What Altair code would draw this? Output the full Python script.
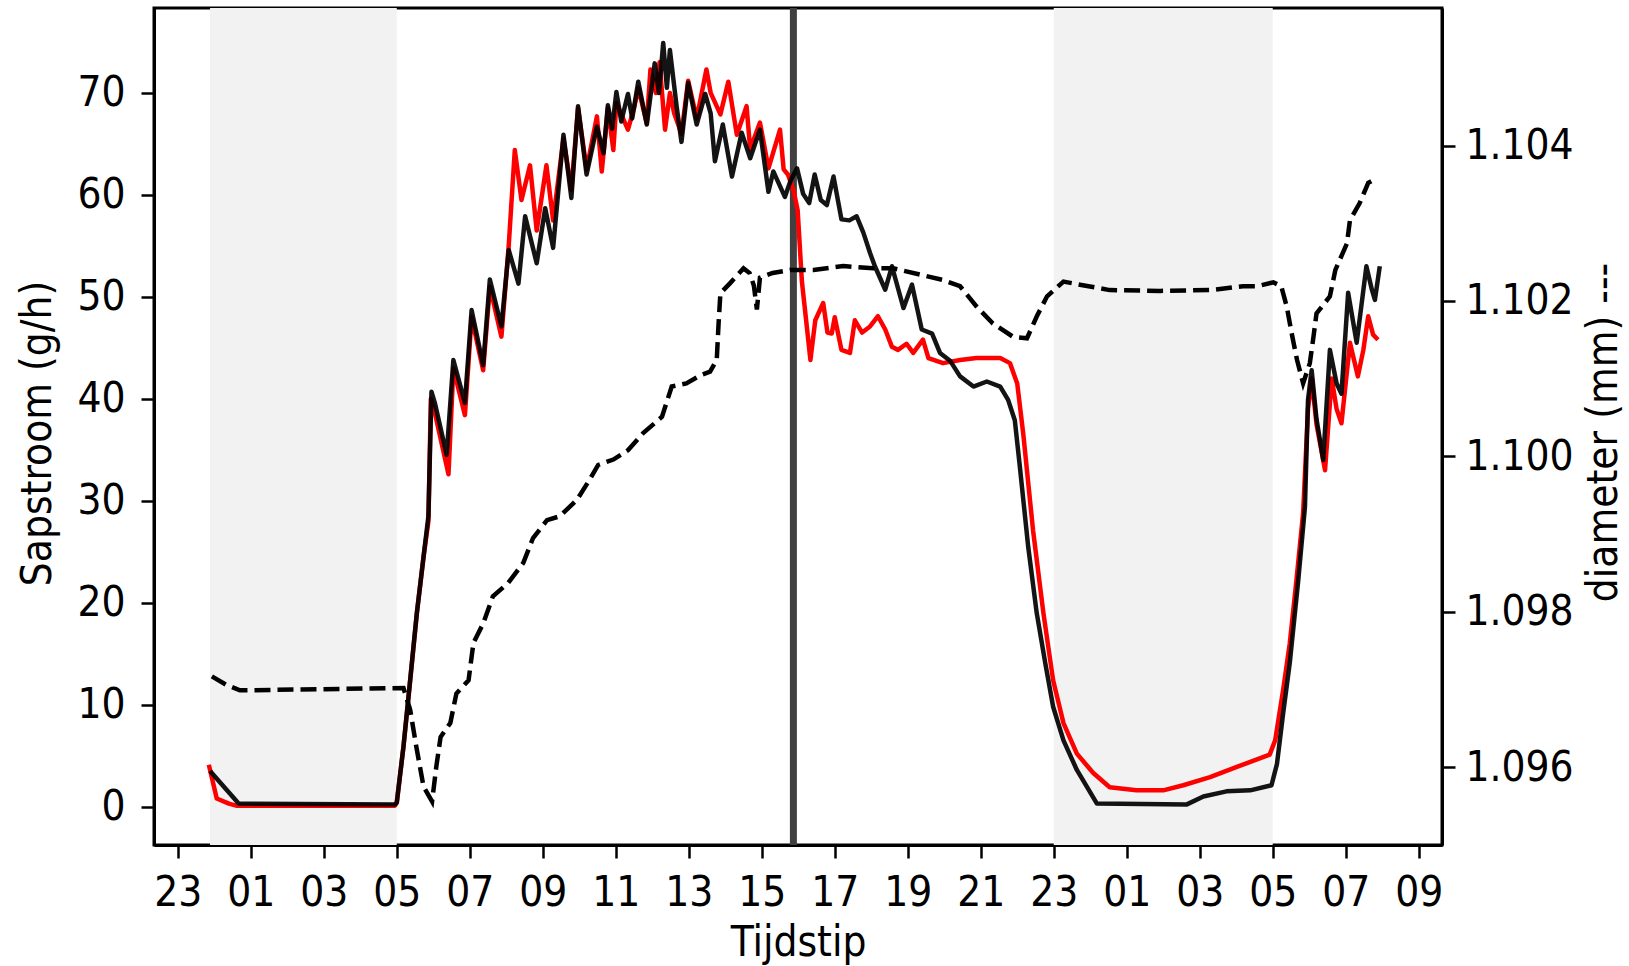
import altair as alt
import pandas as pd

FONT = "DejaVu Sans Condensed, DejaVu Sans"

# Sapstroom (g/h), rode reeks
red_time = [
    "2021-06-14 23:51", "2021-06-15 00:04", "2021-06-15 00:24", "2021-06-15 00:36",
    "2021-06-15 04:57", "2021-06-15 05:00", "2021-06-15 05:11", "2021-06-15 05:22",
    "2021-06-15 05:33", "2021-06-15 05:44", "2021-06-15 05:52", "2021-06-15 05:56",
    "2021-06-15 06:03", "2021-06-15 06:25", "2021-06-15 06:33", "2021-06-15 06:52",
    "2021-06-15 07:03", "2021-06-15 07:22", "2021-06-15 07:33", "2021-06-15 07:52",
    "2021-06-15 08:04", "2021-06-15 08:14", "2021-06-15 08:25", "2021-06-15 08:39",
    "2021-06-15 08:50", "2021-06-15 09:06", "2021-06-15 09:17", "2021-06-15 09:34",
    "2021-06-15 09:47", "2021-06-15 09:58", "2021-06-15 10:12", "2021-06-15 10:29",
    "2021-06-15 10:37", "2021-06-15 10:47", "2021-06-15 10:56", "2021-06-15 11:01",
    "2021-06-15 11:20", "2021-06-15 11:30", "2021-06-15 11:37", "2021-06-15 11:51",
    "2021-06-15 11:57", "2021-06-15 12:06", "2021-06-15 12:12", "2021-06-15 12:21",
    "2021-06-15 12:29", "2021-06-15 12:36", "2021-06-15 12:48", "2021-06-15 12:59",
    "2021-06-15 13:13", "2021-06-15 13:29", "2021-06-15 13:36", "2021-06-15 13:52",
    "2021-06-15 14:05", "2021-06-15 14:19", "2021-06-15 14:35", "2021-06-15 14:41",
    "2021-06-15 14:57", "2021-06-15 15:11", "2021-06-15 15:30", "2021-06-15 15:36",
    "2021-06-15 15:43", "2021-06-15 15:52", "2021-06-15 15:59", "2021-06-15 16:06",
    "2021-06-15 16:20", "2021-06-15 16:28", "2021-06-15 16:41", "2021-06-15 16:48",
    "2021-06-15 16:55", "2021-06-15 17:00", "2021-06-15 17:11", "2021-06-15 17:25",
    "2021-06-15 17:33", "2021-06-15 17:45", "2021-06-15 17:58", "2021-06-15 18:11",
    "2021-06-15 18:23", "2021-06-15 18:34", "2021-06-15 18:44", "2021-06-15 18:58",
    "2021-06-15 19:09", "2021-06-15 19:25", "2021-06-15 19:34", "2021-06-15 19:58",
    "2021-06-15 20:26", "2021-06-15 20:53", "2021-06-15 21:32", "2021-06-15 21:48",
    "2021-06-15 22:00", "2021-06-15 22:10", "2021-06-15 22:26", "2021-06-15 22:43",
    "2021-06-15 22:59", "2021-06-15 23:16", "2021-06-15 23:38", "2021-06-16 00:05",
    "2021-06-16 00:32", "2021-06-16 01:16", "2021-06-16 02:00", "2021-06-16 02:33",
    "2021-06-16 03:17", "2021-06-16 04:01", "2021-06-16 04:55", "2021-06-16 05:04",
    "2021-06-16 05:17", "2021-06-16 05:28", "2021-06-16 05:39", "2021-06-16 05:50",
    "2021-06-16 05:58", "2021-06-16 06:04", "2021-06-16 06:12", "2021-06-16 06:26",
    "2021-06-16 06:37", "2021-06-16 06:45", "2021-06-16 06:53", "2021-06-16 07:07",
    "2021-06-16 07:20", "2021-06-16 07:29", "2021-06-16 07:37", "2021-06-16 07:45",
    "2021-06-16 07:53",
]
red_flow = [
    4.1, 0.8, 0.3, 0.1,
    0.1, 0.4, 5.9, 12.4,
    19.0, 24.5, 28.0, 40.0,
    38.5, 32.6, 43.0, 38.4,
    48.0, 42.8, 51.0, 46.1,
    55.0, 64.4, 59.5, 62.9,
    56.5, 62.9, 57.5, 65.5,
    60.5, 68.5, 62.5, 67.7,
    62.3, 68.5, 64.4, 69.0,
    66.4, 68.5, 70.5, 67.0,
    72.3, 70.0, 73.0, 66.4,
    70.0, 68.0, 66.0, 71.2,
    67.5, 72.3, 70.0, 67.9,
    71.1, 65.9, 68.7, 64.5,
    67.1, 62.6, 66.4, 62.5,
    62.0, 60.5, 58.5, 51.5,
    43.8, 47.7, 49.4, 46.5,
    46.4, 48.0, 44.8, 44.5,
    47.7, 46.5, 47.1, 48.1,
    46.8, 45.1, 44.8, 45.4,
    44.5, 45.8, 44.0, 43.5,
    43.8, 44.0, 44.0, 43.5,
    41.5, 36.5, 27.1, 19.0,
    12.4, 8.2, 5.2, 3.3,
    1.9, 1.6, 1.6, 2.1,
    2.9, 3.9, 5.1, 6.5,
    11.4, 16.0, 22.2, 28.8,
    39.0, 42.0, 37.5, 33.0,
    42.0, 39.0, 37.6, 45.5,
    42.2, 44.8, 48.1, 46.3,
    45.8,
]

# Sapstroom (g/h), zwarte reeks
black_time = [
    "2021-06-14 23:53", "2021-06-15 00:40", "2021-06-15 04:57", "2021-06-15 05:00",
    "2021-06-15 05:11", "2021-06-15 05:22", "2021-06-15 05:33", "2021-06-15 05:44",
    "2021-06-15 05:52", "2021-06-15 05:57", "2021-06-15 06:03", "2021-06-15 06:22",
    "2021-06-15 06:33", "2021-06-15 06:52", "2021-06-15 07:03", "2021-06-15 07:22",
    "2021-06-15 07:33", "2021-06-15 07:52", "2021-06-15 08:04", "2021-06-15 08:20",
    "2021-06-15 08:31", "2021-06-15 08:50", "2021-06-15 09:04", "2021-06-15 09:17",
    "2021-06-15 09:34", "2021-06-15 09:47", "2021-06-15 09:58", "2021-06-15 10:12",
    "2021-06-15 10:29", "2021-06-15 10:40", "2021-06-15 10:47", "2021-06-15 10:54",
    "2021-06-15 11:01", "2021-06-15 11:09", "2021-06-15 11:20", "2021-06-15 11:27",
    "2021-06-15 11:37", "2021-06-15 11:51", "2021-06-15 12:04", "2021-06-15 12:11",
    "2021-06-15 12:18", "2021-06-15 12:24", "2021-06-15 12:29", "2021-06-15 12:40",
    "2021-06-15 12:48", "2021-06-15 12:59", "2021-06-15 13:13", "2021-06-15 13:27",
    "2021-06-15 13:36", "2021-06-15 13:43", "2021-06-15 13:56", "2021-06-15 14:11",
    "2021-06-15 14:27", "2021-06-15 14:41", "2021-06-15 14:57", "2021-06-15 15:11",
    "2021-06-15 15:19", "2021-06-15 15:38", "2021-06-15 15:48", "2021-06-15 15:58",
    "2021-06-15 16:08", "2021-06-15 16:18", "2021-06-15 16:27", "2021-06-15 16:37",
    "2021-06-15 16:47", "2021-06-15 16:58", "2021-06-15 17:11", "2021-06-15 17:24",
    "2021-06-15 17:36", "2021-06-15 17:47", "2021-06-15 17:58", "2021-06-15 18:06",
    "2021-06-15 18:23", "2021-06-15 18:34", "2021-06-15 18:53", "2021-06-15 19:07",
    "2021-06-15 19:23", "2021-06-15 19:40", "2021-06-15 19:53", "2021-06-15 20:10",
    "2021-06-15 20:26", "2021-06-15 20:48", "2021-06-15 21:10", "2021-06-15 21:32",
    "2021-06-15 21:45", "2021-06-15 21:56", "2021-06-15 22:04", "2021-06-15 22:18",
    "2021-06-15 22:32", "2021-06-15 22:46", "2021-06-15 22:59", "2021-06-15 23:16",
    "2021-06-15 23:38", "2021-06-16 00:11", "2021-06-16 02:38", "2021-06-16 03:06",
    "2021-06-16 03:44", "2021-06-16 04:23", "2021-06-16 04:58", "2021-06-16 05:07",
    "2021-06-16 05:17", "2021-06-16 05:28", "2021-06-16 05:42", "2021-06-16 05:53",
    "2021-06-16 05:58", "2021-06-16 06:04", "2021-06-16 06:12", "2021-06-16 06:23",
    "2021-06-16 06:34", "2021-06-16 06:45", "2021-06-16 06:53", "2021-06-16 07:04",
    "2021-06-16 07:18", "2021-06-16 07:34", "2021-06-16 07:43", "2021-06-16 07:48",
    "2021-06-16 07:56",
]
black_flow = [
    3.5, 0.3, 0.2, 0.4,
    5.9, 12.4, 19.0, 24.5,
    28.5, 40.7, 39.5, 34.5,
    43.8, 39.6, 48.7, 43.3,
    51.7, 47.1, 54.6, 51.3,
    57.9, 53.3, 58.7, 54.8,
    65.9, 59.7, 68.7, 62.0,
    66.7, 64.1, 68.8, 66.5,
    70.1, 67.2, 69.9, 67.5,
    71.1, 66.9, 72.9, 70.0,
    74.9, 70.5, 74.2, 68.7,
    65.2, 71.0, 66.9, 69.9,
    68.0, 63.3, 66.9, 61.8,
    66.1, 63.6, 66.4, 60.3,
    62.3, 59.8, 61.5, 62.6,
    60.1, 59.2, 62.0, 59.5,
    59.0, 61.8, 57.6, 57.5,
    57.9, 56.3, 54.3, 53.0,
    50.7, 53.0, 48.9, 51.2,
    46.8, 46.4, 44.5, 43.7,
    42.2, 41.2, 41.7, 41.2,
    39.9, 37.9, 33.5, 25.5,
    19.0, 14.1, 9.8, 6.5,
    3.6, 0.3, 0.2, 1.0,
    1.5, 1.6, 2.1, 4.2,
    9.1, 14.1, 22.2, 29.4,
    39.9, 42.8, 38.0, 34.0,
    44.8, 41.5, 40.5, 50.4,
    45.5, 53.0, 50.7, 49.7,
    53.0,
]

# Stamdiameter (mm)
diam_time = [
    "2021-06-14 23:56", "2021-06-15 00:20", "2021-06-15 00:42", "2021-06-15 05:11",
    "2021-06-15 05:22", "2021-06-15 05:32", "2021-06-15 05:44", "2021-06-15 05:58",
    "2021-06-15 06:05", "2021-06-15 06:12", "2021-06-15 06:28", "2021-06-15 06:38",
    "2021-06-15 06:58", "2021-06-15 07:06", "2021-06-15 07:22", "2021-06-15 07:38",
    "2021-06-15 08:03", "2021-06-15 08:28", "2021-06-15 08:44", "2021-06-15 09:07",
    "2021-06-15 09:28", "2021-06-15 09:56", "2021-06-15 10:17", "2021-06-15 10:31",
    "2021-06-15 10:56", "2021-06-15 11:20", "2021-06-15 11:45", "2021-06-15 12:16",
    "2021-06-15 12:32", "2021-06-15 12:56", "2021-06-15 13:21", "2021-06-15 13:35",
    "2021-06-15 13:46", "2021-06-15 13:49", "2021-06-15 13:52", "2021-06-15 14:08",
    "2021-06-15 14:30", "2021-06-15 14:40", "2021-06-15 14:47", "2021-06-15 14:52",
    "2021-06-15 14:57", "2021-06-15 15:18", "2021-06-15 15:47", "2021-06-15 16:25",
    "2021-06-15 17:14", "2021-06-15 18:03", "2021-06-15 18:36", "2021-06-15 19:20",
    "2021-06-15 19:58", "2021-06-15 20:26", "2021-06-15 20:53", "2021-06-15 21:20",
    "2021-06-15 21:53", "2021-06-15 22:16", "2021-06-15 22:32", "2021-06-15 22:49",
    "2021-06-15 23:16", "2021-06-15 23:43", "2021-06-16 00:32", "2021-06-16 01:55",
    "2021-06-16 03:17", "2021-06-16 04:11", "2021-06-16 04:34", "2021-06-16 05:01",
    "2021-06-16 05:14", "2021-06-16 05:23", "2021-06-16 05:31", "2021-06-16 05:40",
    "2021-06-16 05:50", "2021-06-16 06:01", "2021-06-16 06:07", "2021-06-16 06:12",
    "2021-06-16 06:34", "2021-06-16 06:43", "2021-06-16 07:02", "2021-06-16 07:07",
    "2021-06-16 07:23", "2021-06-16 07:37", "2021-06-16 07:51",
]
diam_mm = [
    1.09717, 1.09706, 1.09699, 1.09702,
    1.09674, 1.09627, 1.09575, 1.09556,
    1.09601, 1.09639, 1.09657, 1.09695,
    1.09712, 1.09760, 1.09785, 1.09820,
    1.09837, 1.09863, 1.09895, 1.09918,
    1.09923, 1.09944, 1.09970, 1.09989,
    1.09996, 1.10008, 1.10030, 1.10051,
    1.10090, 1.10094, 1.10105, 1.10109,
    1.10124, 1.10171, 1.10210, 1.10223,
    1.10242, 1.10236, 1.10220, 1.10189,
    1.10230, 1.10236, 1.10240, 1.10240,
    1.10245, 1.10242, 1.10242, 1.10234,
    1.10227, 1.10219, 1.10193, 1.10171,
    1.10154, 1.10152, 1.10180, 1.10206,
    1.10225, 1.10221, 1.10214, 1.10213,
    1.10214, 1.10219, 1.10219, 1.10224,
    1.10219, 1.10193, 1.10159, 1.10124,
    1.10094, 1.10120, 1.10154, 1.10184,
    1.10206, 1.10240, 1.10274, 1.10304,
    1.10326, 1.10352, 1.10358,
]

# Nachtperiodes (grijs) en het markeermoment (verticale lijn)
night_start = ["2021-06-14 23:53", "2021-06-15 23:00"]
night_end = ["2021-06-15 05:00", "2021-06-16 05:00"]
marker_time = ["2021-06-15 15:52"]

# As-instellingen
x_range = ["2021-06-14 22:20:52", "2021-06-16 09:38:17"]
x_ticks = pd.date_range("2021-06-14 23:00", "2021-06-16 09:00", freq="2h")
flow_ticks = [0, 10, 20, 30, 40, 50, 60, 70]
flow_range = [-3.76, 78.33]
diam_ticks = [1.096, 1.098, 1.100, 1.102, 1.104]
diam_range = [1.0950, 1.10577]


def iso(values):
    return [pd.Timestamp(v).strftime("%Y-%m-%dT%H:%M:%SZ") for v in values]


def dt(value):
    ts = pd.Timestamp(value)
    return alt.DateTime(year=ts.year, month=ts.month, date=ts.day, hours=ts.hour,
                        minutes=ts.minute, seconds=ts.second, utc=True)


red_df = pd.DataFrame({"t": iso(red_time), "flow": red_flow})
black_df = pd.DataFrame({"t": iso(black_time), "flow": black_flow})
diam_df = pd.DataFrame({"t": iso(diam_time), "mm": diam_mm})
night_df = pd.DataFrame({"start": iso(night_start), "end": iso(night_end)})
marker_df = pd.DataFrame({"t": iso(marker_time)})

x_scale = alt.Scale(type="utc", domain=[dt(x_range[0]), dt(x_range[1])])
x_axis = alt.Axis(
    values=[dt(v) for v in x_ticks],
    labelExpr="utcFormat(datum.value, '%H')",
    title="Tijdstip",
    titleX=644,
    titleY=110,
    titleBaseline="alphabetic",
    labelPadding=14,
)

flow_scale = alt.Scale(domain=flow_range, nice=False, zero=False)
flow_axis = alt.Axis(
    orient="left",
    values=flow_ticks,
    title="Sapstroom (g/h)",
    titleAngle=270,
    titleX=-104,
    titleY=425,
    titleAlign="center",
    titleBaseline="alphabetic",
    labelPadding=16,
)
diam_axis = alt.Axis(
    orient="right",
    values=diam_ticks,
    format=".3f",
    title="diameter (mm) ---",
    titleAngle=270,
    titleX=174,
    titleY=424,
    titleAlign="center",
    titleBaseline="alphabetic",
    labelPadding=10,
)

nights = alt.Chart(night_df).mark_rect(color="#f2f2f2").encode(
    x=alt.X("start:T", scale=x_scale, axis=x_axis),
    x2="end:T",
)

marker = alt.Chart(marker_df).mark_rule(color="#404040", strokeWidth=7).encode(
    x=alt.X("t:T", scale=x_scale, axis=x_axis),
)

red_line = alt.Chart(red_df).mark_line(
    color="#ff0000", strokeWidth=4.5, strokeJoin="round"
).encode(
    x=alt.X("t:T", scale=x_scale, axis=x_axis),
    y=alt.Y("flow:Q", scale=flow_scale, axis=flow_axis),
)

black_line = alt.Chart(black_df).mark_line(
    color="#000000", strokeWidth=4.5, strokeJoin="round", opacity=0.92
).encode(
    x=alt.X("t:T", scale=x_scale, axis=x_axis),
    y=alt.Y("flow:Q", scale=flow_scale, axis=None),
)

diam_line = alt.Chart(diam_df).mark_line(
    color="#000000", strokeWidth=4.5, strokeDash=[16, 7]
).encode(
    x=alt.X("t:T", scale=x_scale, axis=x_axis),
    y=alt.Y("mm:Q", scale=alt.Scale(domain=diam_range, nice=False, zero=False),
            axis=diam_axis),
)

chart = (
    alt.layer(nights, marker, red_line, black_line, diam_line)
    .resolve_scale(y="independent")
    .properties(
        width=1288,
        height=837,
        autosize=alt.AutoSizeParams(type="none"),
        padding={"left": 154, "top": 8, "right": 187, "bottom": 121},
        background="white",
    )
    .configure_view(stroke="black", strokeWidth=3)
    .configure_axis(
        grid=False,
        domainColor="black",
        domainWidth=3,
        tickColor="black",
        tickWidth=2.5,
        tickSize=13,
        labelFont=FONT,
        titleFont=FONT,
        labelFontSize=42,
        titleFontSize=42,
        labelColor="black",
        titleColor="black",
        titleFontWeight="normal",
    )
)

chart.save("out.html", embed_options={"renderer": "svg", "actions": False})
